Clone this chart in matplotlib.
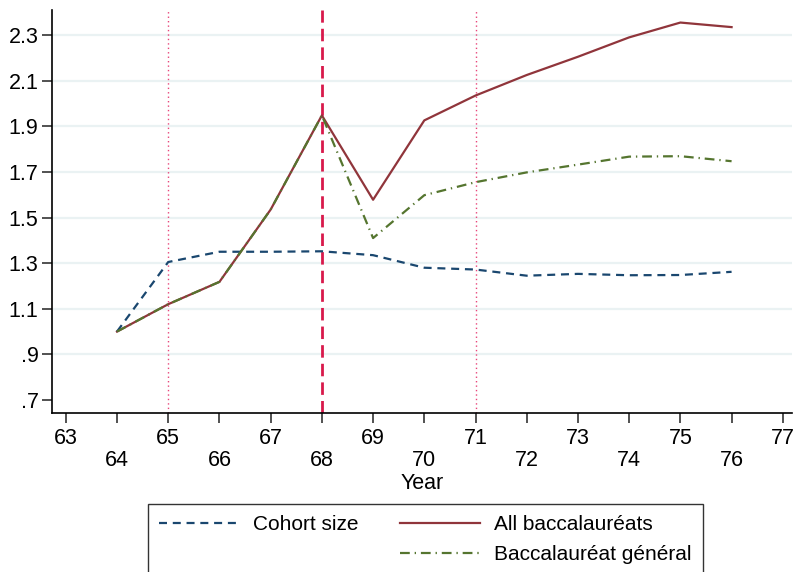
import numpy as np
import matplotlib
matplotlib.use("Agg")
import matplotlib.pyplot as plt
from matplotlib.lines import Line2D
from matplotlib.ticker import FuncFormatter

plt.rcParams['font.family'] = ['Liberation Sans', 'DejaVu Sans']

# data
years = [64, 65, 66, 67, 68, 69, 70, 71, 72, 73, 74, 75, 76]
cohort_size = [1.0, 1.305, 1.35, 1.35, 1.352, 1.335, 1.28, 1.272, 1.245, 1.253, 1.247, 1.248, 1.262]
all_bacc = [1.0, 1.12, 1.218, 1.535, 1.948, 1.578, 1.926, 2.035, 2.125, 2.205, 2.29, 2.355, 2.335]
bacc_general = [1.0, 1.12, 1.218, 1.535, 1.948, 1.41, 1.598, 1.655, 1.698, 1.732, 1.767, 1.769, 1.747]

dotted_years = [65, 71]
dashed_year = 68
odd_years = [63, 65, 67, 69, 71, 73, 75, 77]
even_years = [64, 66, 68, 70, 72, 74, 76]
y_ticks = [0.7, 0.9, 1.1, 1.3, 1.5, 1.7, 1.9, 2.1, 2.3]

fs = 15
tick_fs = 15.5
fig = plt.figure(figsize=(7.94, 5.72), dpi=100)
ax = fig.add_axes([0.0661, 0.278, 0.9314, 0.7045])

ax.set_xlim(62.74, 77.18)
ax.set_ylim(0.643, 2.41)

# grid (no line at the lowest tick, like Stata)
for v in y_ticks[1:]:
    ax.axhline(v, color='#eaf2f3', lw=1.6, zorder=0)

for yr in dotted_years:
    ax.axvline(yr, color='#e8457a', lw=1.0, ls=(0, (1, 2.2)), zorder=1)
ax.axvline(dashed_year, color='#d8194b', lw=2.0, ls=(0, (4.5, 2.2)), zorder=1)

l1, = ax.plot(years, cohort_size, color='#1a476f', lw=1.6, ls=(0, (3.6, 2.6)), zorder=3)
l3, = ax.plot(years, bacc_general, color='#55752f', lw=1.6,
              ls=(0, (4.4, 2.2, 0.6, 2.2)), zorder=3)
l2, = ax.plot(years, all_bacc, color='#90353b', lw=1.6, zorder=2)

for s in ['top', 'right']:
    ax.spines[s].set_visible(False)
for s in ['left', 'bottom']:
    ax.spines[s].set_color('black')
    ax.spines[s].set_linewidth(1.2)

ax.set_yticks(y_ticks)
ax.yaxis.set_major_formatter(FuncFormatter(lambda v, p: ('%.1f' % v).lstrip('0')))
ax.tick_params(axis='y', length=7, width=1.2, color='#333333', labelsize=tick_fs, pad=3)

ax.set_xticks(odd_years)
ax.set_xticks(even_years, minor=True)
ax.set_xticklabels([str(y) for y in odd_years])
ax.set_xticklabels([str(y) for y in even_years], minor=True)
ax.tick_params(axis='x', which='both', length=7, width=1.2, color='#333333', labelsize=tick_fs)
ax.tick_params(axis='x', which='major', pad=4)
ax.tick_params(axis='x', which='minor', pad=20)
ax.set_xlabel('Year', fontsize=tick_fs, labelpad=1)

blank = Line2D([], [], color='none')
leg = fig.legend([l1, blank, l2, l3],
                 ['Cohort size', '', 'All baccalauréats', 'Baccalauréat général'],
                 ncol=2, loc='upper center', bbox_to_anchor=(0.536, 0.119),
                 fontsize=fs, handlelength=3.84, handletextpad=0.67,
                 columnspacing=2.0, labelspacing=0.5, borderpad=0.55,
                 borderaxespad=0, frameon=True, fancybox=False)
leg.get_frame().set_edgecolor('black')
leg.get_frame().set_linewidth(1.0)

fig.savefig('out.png', dpi=100)
